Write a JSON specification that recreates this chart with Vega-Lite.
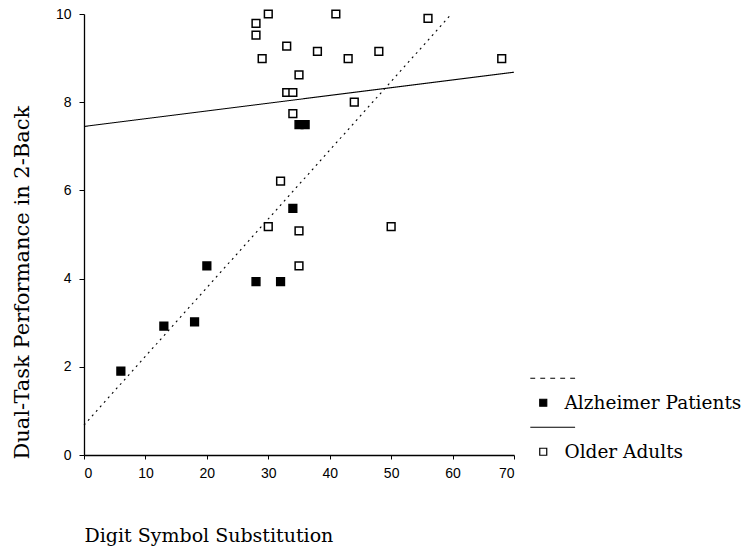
{
  "$schema": "https://vega.github.io/schema/vega-lite/v6.json",
  "width": 430,
  "height": 441,
  "autosize": {"type": "none"},
  "padding": {"left": 84, "top": 14, "right": 232, "bottom": 93},
  "background": "white",
  "config": {
    "view": {"stroke": null},
    "axis": {
      "grid": false,
      "domainColor": "black",
      "domainWidth": 1.3,
      "tickColor": "black",
      "tickSize": 5,
      "labelFont": "Liberation Sans",
      "labelFontSize": 14,
      "labelColor": "black",
      "titleFont": "DejaVu Serif",
      "titleFontWeight": "normal",
      "titleColor": "black"
    },
    "legend": {
      "title": null,
      "orient": "none",
      "legendX": 450,
      "legendY": 355,
      "labelFont": "DejaVu Serif",
      "labelFontSize": 18.5,
      "labelColor": "black",
      "labelLimit": 400,
      "labelOffset": 12,
      "rowPadding": 5.5,
      "symbolSize": 49,
      "symbolStrokeWidth": 1.2,
      "symbolOpacity": 1
    }
  },
  "layer": [
    {
      "data": {
        "values": [
          {"dss": 0, "perf": 0.68, "fit": "Alzheimer fit"},
          {"dss": 59.5, "perf": 9.95, "fit": "Alzheimer fit"},
          {"dss": 0, "perf": 7.45, "fit": "Older fit"},
          {"dss": 70, "perf": 8.68, "fit": "Older fit"}
        ]
      },
      "mark": {"type": "line", "color": "black", "strokeWidth": 1.1},
      "encoding": {
        "x": {"field": "dss", "type": "quantitative", "scale": {"domain": [0, 70]}},
        "y": {"field": "perf", "type": "quantitative", "scale": {"domain": [0, 10]}},
        "detail": {"field": "fit"},
        "strokeDash": {
          "field": "fit",
          "type": "nominal",
          "scale": {"domain": ["Alzheimer fit", "Older fit"], "range": [[2, 4], [1, 0]]},
          "legend": null
        }
      }
    },
    {
      "data": {
        "values": [
          {"dss": 6, "perf": 1.9, "group": "Alzheimer Patients"},
          {"dss": 13, "perf": 2.92, "group": "Alzheimer Patients"},
          {"dss": 18, "perf": 3.02, "group": "Alzheimer Patients"},
          {"dss": 20, "perf": 4.29, "group": "Alzheimer Patients"},
          {"dss": 28, "perf": 3.93, "group": "Alzheimer Patients"},
          {"dss": 32, "perf": 3.93, "group": "Alzheimer Patients"},
          {"dss": 34, "perf": 5.59, "group": "Alzheimer Patients"},
          {"dss": 35, "perf": 7.49, "group": "Alzheimer Patients"},
          {"dss": 36, "perf": 7.49, "group": "Alzheimer Patients"},
          {"dss": 30, "perf": 10.0, "group": "Older Adults"},
          {"dss": 41, "perf": 10.0, "group": "Older Adults"},
          {"dss": 28, "perf": 9.79, "group": "Older Adults"},
          {"dss": 28, "perf": 9.52, "group": "Older Adults"},
          {"dss": 33, "perf": 9.27, "group": "Older Adults"},
          {"dss": 29, "perf": 8.99, "group": "Older Adults"},
          {"dss": 38, "perf": 9.15, "group": "Older Adults"},
          {"dss": 43, "perf": 8.99, "group": "Older Adults"},
          {"dss": 48, "perf": 9.15, "group": "Older Adults"},
          {"dss": 56, "perf": 9.9, "group": "Older Adults"},
          {"dss": 68, "perf": 8.99, "group": "Older Adults"},
          {"dss": 35, "perf": 8.62, "group": "Older Adults"},
          {"dss": 33, "perf": 8.22, "group": "Older Adults"},
          {"dss": 34, "perf": 8.22, "group": "Older Adults"},
          {"dss": 44, "perf": 8.0, "group": "Older Adults"},
          {"dss": 34, "perf": 7.74, "group": "Older Adults"},
          {"dss": 32, "perf": 6.21, "group": "Older Adults"},
          {"dss": 30, "perf": 5.18, "group": "Older Adults"},
          {"dss": 35, "perf": 5.08, "group": "Older Adults"},
          {"dss": 50, "perf": 5.18, "group": "Older Adults"},
          {"dss": 35, "perf": 4.29, "group": "Older Adults"}
        ]
      },
      "mark": {"type": "point", "filled": false, "opacity": 1, "size": 60, "strokeWidth": 1.5},
      "encoding": {
        "x": {
          "field": "dss",
          "type": "quantitative",
          "scale": {"domain": [0, 70]},
          "axis": {
            "title": "Digit Symbol Substitution",
            "values": [0, 10, 20, 30, 40, 50, 60, 70],
            "tickSize": 4,
            "titleFontSize": 19,
            "titleAnchor": "start",
            "titleAlign": "left",
            "titlePadding": 46,
            "labelPadding": 7
          }
        },
        "y": {
          "field": "perf",
          "type": "quantitative",
          "scale": {"domain": [0, 10]},
          "axis": {
            "title": "Dual-Task Performance in 2-Back",
            "values": [0, 2, 4, 6, 8, 10],
            "titleFontSize": 21,
            "titleAnchor": "start",
            "titleAlign": "left",
            "titleX": -52,
            "titleY": 445,
            "labelPadding": 8
          }
        },
        "fill": {
          "field": "group",
          "type": "nominal",
          "scale": {
            "domain": ["dash", "Alzheimer Patients", "solid", "Older Adults"],
            "range": ["black", "black", "black", "white"]
          },
          "legend": {
            "labelExpr": "datum.value == 'dash' || datum.value == 'solid' ? ' ' : datum.value"
          }
        },
        "stroke": {
          "field": "group",
          "type": "nominal",
          "scale": {
            "domain": ["dash", "Alzheimer Patients", "solid", "Older Adults"],
            "range": ["black", "black", "black", "black"]
          },
          "legend": {
            "labelExpr": "datum.value == 'dash' || datum.value == 'solid' ? ' ' : datum.value"
          }
        },
        "shape": {
          "field": "group",
          "type": "nominal",
          "scale": {
            "domain": ["dash", "Alzheimer Patients", "solid", "Older Adults"],
            "range": [
              "M-3.7,0H-2.3M-0.85,0H0.55M2,0H3.4M4.85,0H6.25M7.7,0H9.1",
              "square",
              "M-3.7,0H9.1",
              "square"
            ]
          },
          "legend": {
            "labelExpr": "datum.value == 'dash' || datum.value == 'solid' ? ' ' : datum.value"
          }
        }
      }
    }
  ]
}
